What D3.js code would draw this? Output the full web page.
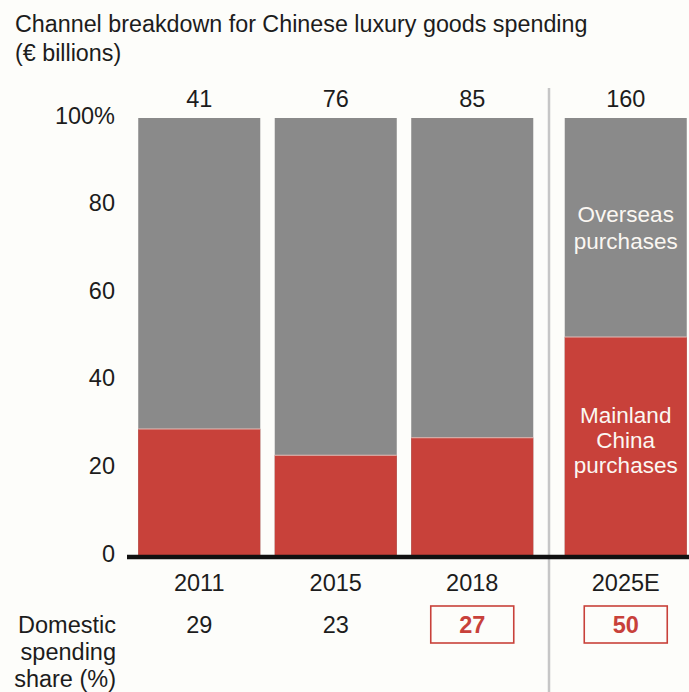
<!DOCTYPE html>
<html>
<head>
<meta charset="utf-8">
<script src="https://cdn.jsdelivr.net/npm/d3@7"></script>
<style>
  html, body { margin: 0; padding: 0; background: #fdfdfa; }
  svg { display: block; font-family: "Liberation Sans", Arial, sans-serif; }
</style>
</head>
<body>
<svg id="chart" width="689" height="692"></svg>
<script>
// Chinese luxury goods spending, split by purchase channel
const years = ["2011", "2015", "2018", "2025E"];
const totals = [41, 76, 85, 160];            // € billions
const domesticShare = [29, 23, 27, 50];      // % bought in mainland China
const highlighted = [false, false, true, true];
const estimated = [false, false, false, true];
const yTicks = [0, 20, 40, 60, 80, 100];

const W = 689, H = 692;
const FS = 23.5;
const INK = "#1c1c1c";
const RED = "#c8413a", GREY = "#8a8a8a";

const svg = d3.select("#chart");
svg.append("rect").attr("width", W).attr("height", H).attr("fill", "#fdfdfa");

const x = d3.scaleBand().domain(years).range([131, 677])
  .paddingInner(0.106).paddingOuter(0.053);
const estGap = 17; // extra space before the estimate column
const xPos = (d, i) => x(d) + (estimated[i] ? estGap : 0);
const xMid = (d, i) => xPos(d, i) + x.bandwidth() / 2;

const y = d3.scaleLinear().domain([0, 100]).range([556, 118]);

const text = (xx, yy, t, opts = {}) => svg.append("text")
  .attr("x", xx).attr("y", yy)
  .attr("text-anchor", opts.anchor || "middle")
  .attr("font-size", opts.size || FS)
  .attr("font-weight", opts.weight || "normal")
  .attr("fill", opts.fill || INK)
  .text(t);

// title
text(15, 32, "Channel breakdown for Chinese luxury goods spending", { anchor: "start", size: 23.3 });
text(15, 60.5, "(€ billions)", { anchor: "start", size: 23.3 });

// separator before the estimate
const sepX = (xPos(years[2], 2) + x.bandwidth() + xPos(years[3], 3)) / 2;
svg.append("line").attr("x1", sepX).attr("x2", sepX).attr("y1", 88).attr("y2", H)
  .attr("stroke", "#c6c6c6").attr("stroke-width", 2.5);

// bars: overseas (full height) with mainland share stacked from the base
const g = svg.append("g");
years.forEach((d, i) => {
  g.append("rect").attr("x", xPos(d, i)).attr("width", x.bandwidth())
    .attr("y", y(100)).attr("height", y(0) - y(100)).attr("fill", GREY);
  g.append("rect").attr("x", xPos(d, i)).attr("width", x.bandwidth())
    .attr("y", y(domesticShare[i])).attr("height", y(0) - y(domesticShare[i])).attr("fill", RED);
  g.append("line").attr("x1", xPos(d, i)).attr("x2", xPos(d, i) + x.bandwidth())
    .attr("y1", y(domesticShare[i])).attr("y2", y(domesticShare[i]))
    .attr("stroke", "#e2bdb8").attr("stroke-width", 1);
});

// y axis labels
const yAxis = d3.axisLeft(y).tickValues(yTicks).tickSize(0).tickPadding(0)
  .tickFormat(v => v === 100 ? "100%" : v);
const ya = svg.append("g").attr("transform", "translate(115,-2.5)").call(yAxis);
ya.select(".domain").remove();
ya.selectAll("text").attr("font-size", FS).attr("fill", INK)
  .attr("font-family", "Liberation Sans, Arial, sans-serif");

// baseline
svg.append("line").attr("x1", 127).attr("x2", W).attr("y1", y(0) + 1).attr("y2", y(0) + 1)
  .attr("stroke", "#111").attr("stroke-width", 4.5);

// totals, category labels and domestic share row
years.forEach((d, i) => {
  text(xMid(d, i), 107, totals[i]);
  text(xMid(d, i), 591, d);
  if (highlighted[i]) {
    svg.append("rect").attr("x", xMid(d, i) - 41.5).attr("y", 606).attr("width", 83).attr("height", 37)
      .attr("fill", "none").attr("stroke", RED).attr("stroke-width", 1.6);
  }
  text(xMid(d, i), 633, domesticShare[i], {
    weight: highlighted[i] ? "bold" : "normal",
    fill: highlighted[i] ? RED : INK
  });
});

// row label
["Domestic", "spending", "share (%)"].forEach((t, k) => {
  text(116, 633 + k * 27, t, { anchor: "end" });
});

// segment labels inside the estimate column
const last = years.length - 1;
const cx = xMid(years[last], last);
const lab = (lines, y0, step) => lines.forEach((t, k) => {
  text(cx, y0 + k * step, t, { size: 22.5, fill: "#fbf7f2" });
});
lab(["Overseas", "purchases"], 222, 27);
lab(["Mainland", "China", "purchases"], 423, 25);
</script>
</body>
</html>
